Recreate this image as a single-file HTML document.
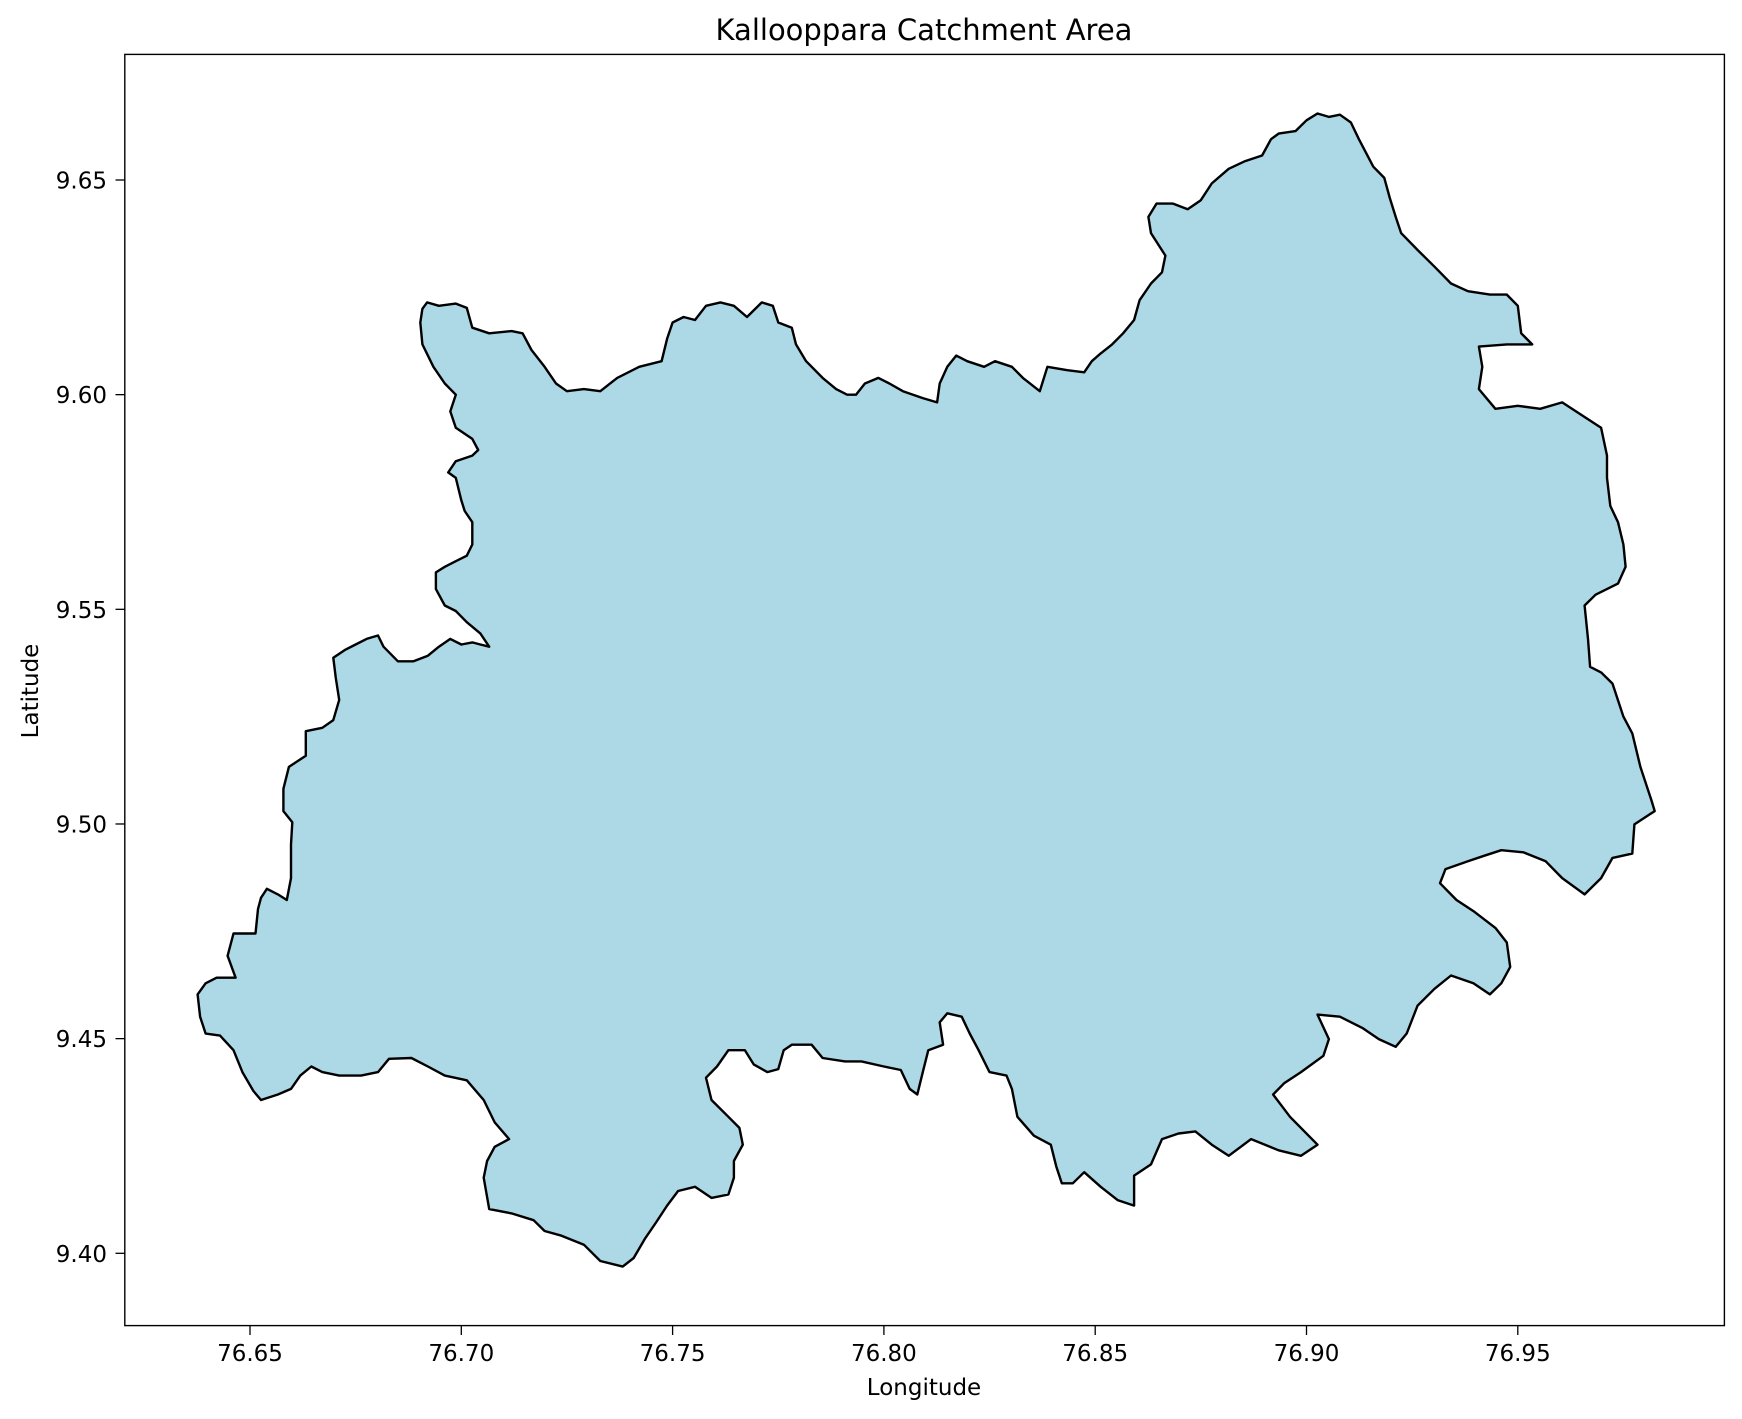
<!DOCTYPE html>
<html><head><meta charset="utf-8"><style>
body{margin:0;background:#fff}
svg{display:block;font-family:"DejaVu Sans","Liberation Sans",sans-serif}
</style></head><body>
<svg id="chart" width="1742" height="1419" viewBox="0 0 1742 1419" xmlns="http://www.w3.org/2000/svg">
<text x="924" y="40" font-size="29" text-anchor="middle">Kallooppara Catchment Area</text>
<g id="plot"></g>
<rect x="124.8" y="54.4" width="1599.6" height="1271.2" fill="none" stroke="#000" stroke-width="1.4"/>
<g id="xt"></g>
<g id="yt"></g>
<text x="924" y="1395" font-size="23" text-anchor="middle">Longitude</text>
<text x="38" y="691" font-size="23" text-anchor="middle" transform="rotate(-90 38 691)">Latitude</text>
</svg>
<script>
const xTicks=[76.65,76.70,76.75,76.80,76.85,76.90,76.95];
const yTicks=[9.40,9.45,9.50,9.55,9.60,9.65];
const boundaryLon=[76.6908,76.6919,76.6947,76.6987,76.7013,76.7026,76.7066,76.7119,76.7145,76.7166,76.7197,76.7224,76.7250,76.7290,76.7329,76.7369,76.7421,76.7474,76.7487,76.7500,76.7526,76.7553,76.7579,76.7613,76.7645,76.7676,76.7711,76.7737,76.7750,76.7782,76.7792,76.7816,76.7855,76.7887,76.7913,76.7934,76.7955,76.7987,76.8013,76.8045,76.8092,76.8126,76.8132,76.8150,76.8171,76.8197,76.8237,76.8263,76.8303,76.8329,76.8369,76.8387,76.8434,76.8474,76.8492,76.8513,76.8540,76.8566,76.8592,76.8605,76.8632,76.8658,76.8666,76.8632,76.8626,76.8645,76.8684,76.8719,76.8750,76.8776,76.8816,76.8855,76.8895,76.8916,76.8934,76.8974,76.9000,76.9026,76.9053,76.9079,76.9105,76.9124,76.9158,76.9184,76.9197,76.9211,76.9224,76.9263,76.9303,76.9342,76.9382,76.9434,76.9474,76.9500,76.9508,76.9534,76.9474,76.9408,76.9416,76.9408,76.9447,76.9500,76.9553,76.9605,76.9658,76.9697,76.9711,76.9711,76.9719,76.9737,76.9750,76.9755,76.9737,76.9684,76.9658,76.9666,76.9671,76.9697,76.9724,76.9750,76.9771,76.9790,76.9816,76.9824,76.9776,76.9771,76.9724,76.9697,76.9658,76.9605,76.9566,76.9513,76.9461,76.9421,76.9382,76.9329,76.9316,76.9355,76.9395,76.9447,76.9474,76.9482,76.9461,76.9434,76.9395,76.9342,76.9303,76.9263,76.9237,76.9211,76.9171,76.9132,76.9079,76.9026,76.9053,76.9040,76.8987,76.8947,76.8921,76.8961,76.9026,76.8987,76.8934,76.8869,76.8816,76.8776,76.8737,76.8697,76.8658,76.8632,76.8592,76.8592,76.8553,76.8513,76.8474,76.8447,76.8421,76.8408,76.8395,76.8355,76.8316,76.8303,76.8290,76.8250,76.8224,76.8203,76.8184,76.8150,76.8132,76.8140,76.8105,76.8092,76.8079,76.8061,76.8040,76.8000,76.7947,76.7908,76.7855,76.7829,76.7782,76.7763,76.7750,76.7724,76.7692,76.7671,76.7632,76.7605,76.7579,76.7592,76.7632,76.7658,76.7666,76.7645,76.7645,76.7632,76.7592,76.7553,76.7513,76.7487,76.7461,76.7434,76.7408,76.7382,76.7329,76.7290,76.7237,76.7197,76.7171,76.7119,76.7066,76.7053,76.7061,76.7079,76.7113,76.7079,76.7053,76.7013,76.6961,76.6921,76.6882,76.6829,76.6803,76.6763,76.6711,76.6671,76.6645,76.6619,76.6597,76.6566,76.6526,76.6508,76.6482,76.6461,76.6429,76.6395,76.6382,76.6376,76.6395,76.6421,76.6466,76.6447,76.6461,76.6513,76.6519,76.6526,76.6540,76.6566,76.6587,76.6597,76.6597,76.6600,76.6579,76.6579,76.6592,76.6632,76.6632,76.6671,76.6697,76.6711,76.6703,76.6697,76.6724,76.6750,76.6776,76.6803,76.6816,76.6850,76.6887,76.6921,76.6947,76.6974,76.7000,76.7026,76.7045,76.7066,76.7045,76.7013,76.6987,76.6961,76.6940,76.6940,76.6961,76.6987,76.7013,76.7026,76.7026,76.7008,76.7000,76.6987,76.6969,76.6987,76.7026,76.7040,76.7026,76.6987,76.6974,76.6987,76.6961,76.6934,76.6908,76.6903];
const boundaryLat=[9.6200,9.6215,9.6207,9.6212,9.6202,9.6156,9.6143,9.6148,9.6143,9.6104,9.6065,9.6026,9.6008,9.6013,9.6008,9.6039,9.6065,9.6078,9.6130,9.6168,9.6181,9.6174,9.6207,9.6215,9.6207,9.6181,9.6215,9.6207,9.6168,9.6156,9.6117,9.6078,9.6039,9.6013,9.6000,9.6000,9.6026,9.6039,9.6026,9.6008,9.5992,9.5982,9.6026,9.6065,9.6091,9.6078,9.6065,9.6078,9.6065,9.6039,9.6008,9.6065,9.6057,9.6052,9.6078,9.6096,9.6117,9.6143,9.6174,9.6220,9.6259,9.6285,9.6324,9.6376,9.6414,9.6445,9.6445,9.6432,9.6453,9.6492,9.6526,9.6544,9.6557,9.6595,9.6608,9.6614,9.6639,9.6655,9.6647,9.6652,9.6634,9.6595,9.6531,9.6505,9.6458,9.6414,9.6376,9.6337,9.6298,9.6259,9.6241,9.6233,9.6233,9.6207,9.6143,9.6117,9.6117,9.6112,9.6065,9.6013,9.5967,9.5974,9.5967,9.5982,9.5948,9.5923,9.5858,9.5806,9.5741,9.5703,9.5651,9.5599,9.5560,9.5534,9.5509,9.5431,9.5366,9.5353,9.5327,9.5250,9.5211,9.5133,9.5056,9.5030,9.4999,9.4931,9.4921,9.4874,9.4836,9.4874,9.4913,9.4934,9.4939,9.4926,9.4913,9.4895,9.4862,9.4823,9.4797,9.4758,9.4724,9.4667,9.4629,9.4603,9.4629,9.4647,9.4616,9.4577,9.4512,9.4481,9.4499,9.4525,9.4551,9.4556,9.4499,9.4460,9.4422,9.4396,9.4370,9.4318,9.4253,9.4227,9.4240,9.4266,9.4227,9.4253,9.4284,9.4279,9.4266,9.4207,9.4181,9.4111,9.4124,9.4155,9.4189,9.4163,9.4163,9.4202,9.4253,9.4274,9.4318,9.4383,9.4414,9.4422,9.4473,9.4512,9.4551,9.4559,9.4538,9.4486,9.4473,9.4422,9.4370,9.4383,9.4427,9.4435,9.4447,9.4447,9.4455,9.4486,9.4486,9.4473,9.4429,9.4422,9.4440,9.4473,9.4473,9.4435,9.4409,9.4357,9.4318,9.4292,9.4253,9.4215,9.4176,9.4137,9.4129,9.4155,9.4145,9.4111,9.4072,9.4033,9.3989,9.3969,9.3982,9.4020,9.4041,9.4052,9.4077,9.4093,9.4103,9.4176,9.4215,9.4248,9.4266,9.4305,9.4357,9.4403,9.4414,9.4435,9.4455,9.4453,9.4422,9.4414,9.4414,9.4422,9.4435,9.4414,9.4383,9.4370,9.4357,9.4378,9.4422,9.4473,9.4507,9.4512,9.4551,9.4603,9.4629,9.4642,9.4642,9.4693,9.4745,9.4745,9.4802,9.4828,9.4849,9.4836,9.4823,9.4874,9.4952,9.5004,9.5030,9.5082,9.5133,9.5159,9.5216,9.5224,9.5242,9.5289,9.5340,9.5387,9.5405,9.5418,9.5431,9.5439,9.5413,9.5379,9.5379,9.5392,9.5413,9.5431,9.5418,9.5423,9.5418,9.5413,9.5444,9.5470,9.5496,9.5509,9.5547,9.5586,9.5599,9.5612,9.5625,9.5651,9.5703,9.5729,9.5754,9.5806,9.5819,9.5845,9.5858,9.5871,9.5897,9.5923,9.5961,9.6000,9.6026,9.6065,9.6117,9.6168];

const NS='http://www.w3.org/2000/svg';
function xs(lon){return 250+(lon-76.65)*(1517.8-250)/0.30;}
function ys(lat){return 1253.3-(lat-9.40)*(1253.3-180)/0.25;}
const plot=document.getElementById('plot');
let d='';
for(let i=0;i<boundaryLon.length;i++){d+=(i?'L':'M')+xs(boundaryLon[i]).toFixed(1)+','+ys(boundaryLat[i]).toFixed(1);}
d+='Z';
const p=document.createElementNS(NS,'path');
p.setAttribute('d',d);p.setAttribute('fill','#add8e6');p.setAttribute('stroke','#000');p.setAttribute('stroke-width','2.4');p.setAttribute('stroke-linejoin','round');


plot.appendChild(p);
const xt=document.getElementById('xt');
xTicks.forEach(v=>{
  const x=xs(v);
  const l=document.createElementNS(NS,'line');
  l.setAttribute('x1',x);l.setAttribute('x2',x);l.setAttribute('y1',1325.6);l.setAttribute('y2',1335);l.setAttribute('stroke','#000');l.setAttribute('stroke-width','1.3');
  
  
  xt.appendChild(l);
  const t=document.createElementNS(NS,'text');
  t.setAttribute('x',x);t.setAttribute('y',1361);t.setAttribute('font-size','23');t.setAttribute('text-anchor','middle');
  t.textContent=v.toFixed(2);
  
  
  xt.appendChild(t);
});
const yt=document.getElementById('yt');
yTicks.forEach(v=>{
  const y=ys(v);
  const l=document.createElementNS(NS,'line');
  l.setAttribute('x1',115.5);l.setAttribute('x2',124.8);l.setAttribute('y1',y);l.setAttribute('y2',y);l.setAttribute('stroke','#000');l.setAttribute('stroke-width','1.3');
  
  
  yt.appendChild(l);
  const t=document.createElementNS(NS,'text');
  t.setAttribute('x',107);t.setAttribute('y',y+8.5);t.setAttribute('font-size','23');t.setAttribute('text-anchor','end');
  t.textContent=v.toFixed(2);
  
  
  yt.appendChild(t);
});
</script>
</body></html>
